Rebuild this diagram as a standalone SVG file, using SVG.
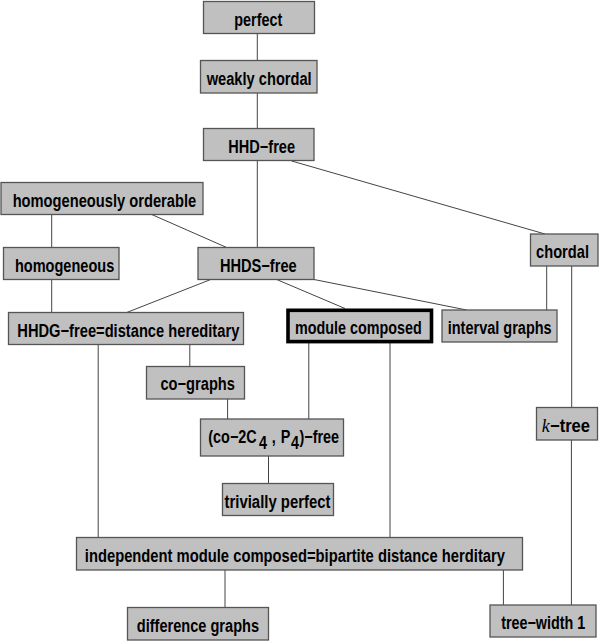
<svg xmlns="http://www.w3.org/2000/svg" width="599" height="641" viewBox="0 0 599 641">
<style>
  .bx { fill: #c0c0c0; stroke: #555555; stroke-width: 1.3; }
  .thick { fill: #c0c0c0; stroke: #000000; stroke-width: 3.6; }
  .t { font-family: "Liberation Sans", Arial, sans-serif; font-weight: bold; font-size: 18px; fill: #000000; }
  .c { text-anchor: middle; }
  .k { font-family: "Liberation Serif", "Times New Roman", serif; font-style: italic; font-weight: normal; }
  .e { stroke: #444444; stroke-width: 1; fill: none; }
</style>
<rect width="599" height="641" fill="#ffffff"/>
<g id="connectors">
  <line class="e" x1="257.3" y1="33.5" x2="257.3" y2="60.5"/>
  <line class="e" x1="257.3" y1="93" x2="257.3" y2="128.5"/>
  <line class="e" x1="257.3" y1="160.5" x2="257.3" y2="247.5"/>
  <line class="e" x1="291.7" y1="161" x2="545" y2="234"/>
  <line class="e" x1="51.7" y1="214.5" x2="51.7" y2="247.5"/>
  <line class="e" x1="51.7" y1="279.5" x2="51.7" y2="312.5"/>
  <line class="e" x1="151.7" y1="214.5" x2="226.7" y2="247.5"/>
  <line class="e" x1="210.7" y1="279.5" x2="126.7" y2="312.5"/>
  <line class="e" x1="276.7" y1="279.5" x2="345" y2="308.5"/>
  <line class="e" x1="314" y1="279.5" x2="466.7" y2="310"/>
  <line class="e" x1="546.7" y1="266" x2="546.7" y2="310"/>
  <line class="e" x1="571.7" y1="266" x2="571.7" y2="407.5"/>
  <line class="e" x1="189.8" y1="344.5" x2="189.8" y2="366.5"/>
  <line class="e" x1="98.2" y1="344.5" x2="98.2" y2="537.5"/>
  <line class="e" x1="227.6" y1="399" x2="227.6" y2="419"/>
  <line class="e" x1="308.8" y1="343" x2="308.8" y2="419"/>
  <line class="e" x1="390" y1="343" x2="390" y2="537.5"/>
  <line class="e" x1="268.5" y1="456" x2="268.5" y2="483.5"/>
  <line class="e" x1="225" y1="570" x2="225" y2="607.5"/>
  <line class="e" x1="503.4" y1="570" x2="503.4" y2="605"/>
  <line class="e" x1="571.4" y1="440" x2="571.4" y2="605"/>
</g>
<g id="perfect">
  <rect class="bx" x="203.5" y="1.5" width="111" height="32"/>
  <text class="t c" x="258.3" y="26" textLength="48" lengthAdjust="spacingAndGlyphs">perfect</text>
</g>
<g id="weakly-chordal">
  <rect class="bx" x="200.5" y="60.5" width="116.5" height="32.5"/>
  <text class="t c" x="259.2" y="85.3" textLength="105" lengthAdjust="spacingAndGlyphs">weakly chordal</text>
</g>
<g id="hhd-free">
  <rect class="bx" x="203.5" y="128.5" width="110.5" height="32"/>
  <text class="t c" x="261.7" y="152.8" textLength="66.7" lengthAdjust="spacingAndGlyphs">HHD−free</text>
</g>
<g id="homogeneously-orderable">
  <rect class="bx" x="1" y="182.5" width="202" height="32"/>
  <text class="t c" x="104.4" y="207" textLength="183.5" lengthAdjust="spacingAndGlyphs">homogeneously orderable</text>
</g>
<g id="homogeneous">
  <rect class="bx" x="3.5" y="247.5" width="115.5" height="32"/>
  <text class="t c" x="64.6" y="271.5" textLength="99.3" lengthAdjust="spacingAndGlyphs">homogeneous</text>
</g>
<g id="hhds-free">
  <rect class="bx" x="198" y="247.5" width="116" height="32"/>
  <text class="t c" x="258.3" y="271.8" textLength="76.7" lengthAdjust="spacingAndGlyphs">HHDS−free</text>
</g>
<g id="chordal">
  <rect class="bx" x="530.5" y="234" width="67.5" height="32"/>
  <text class="t c" transform="translate(562.5,258.3) scale(0.815,1)">chordal</text>
</g>
<g id="hhdg-free">
  <rect class="bx" x="8.5" y="312.5" width="235" height="32"/>
  <text class="t c" x="128.3" y="336.8" textLength="222" lengthAdjust="spacingAndGlyphs">HHDG−free=distance hereditary</text>
</g>
<g id="module-composed">
  <rect class="thick" x="288" y="310.3" width="143.5" height="31.3"/>
  <text class="t c" x="358.4" y="334" textLength="126.7" lengthAdjust="spacingAndGlyphs">module composed</text>
</g>
<g id="interval-graphs">
  <rect class="bx" x="442" y="310" width="115" height="32"/>
  <text class="t c" x="499.7" y="334" textLength="104" lengthAdjust="spacingAndGlyphs">interval graphs</text>
</g>
<g id="co-graphs">
  <rect class="bx" x="146.5" y="366.5" width="98" height="32.5"/>
  <text class="t c" x="197.7" y="389.5" textLength="74.5" lengthAdjust="spacingAndGlyphs">co−graphs</text>
</g>
<g id="co-2c4-p4-free">
  <rect class="bx" x="200.5" y="419" width="143" height="37"/>
  <text class="t" transform="translate(208.3,443) scale(0.8,1)">(co−2C<tspan dx="3" dy="6">4</tspan><tspan dx="6" dy="-6">,</tspan><tspan dx="6">P</tspan><tspan dx="1" dy="6">4</tspan><tspan dx="0.5" dy="-6">)−free</tspan></text>
</g>
<g id="trivially-perfect">
  <rect class="bx" x="222.5" y="483.5" width="111" height="32"/>
  <text class="t c" x="277.5" y="507.5" textLength="105.8" lengthAdjust="spacingAndGlyphs">trivially perfect</text>
</g>
<g id="k-tree">
  <rect class="bx" x="536.5" y="407.5" width="61" height="32.5"/>
  <text class="t" y="431.7"><tspan class="k" x="541.7">k</tspan><tspan x="550" textLength="40" lengthAdjust="spacingAndGlyphs">−tree</tspan></text>
</g>
<g id="independent-module-composed">
  <rect class="bx" x="76.5" y="537.5" width="446" height="32.5"/>
  <text class="t c" x="294.9" y="561.7" textLength="420.2" lengthAdjust="spacingAndGlyphs">independent module composed=bipartite distance herditary</text>
</g>
<g id="difference-graphs">
  <rect class="bx" x="127.5" y="607.5" width="141" height="32.5"/>
  <text class="t c" x="197.9" y="631.7" textLength="122.3" lengthAdjust="spacingAndGlyphs">difference graphs</text>
</g>
<g id="tree-width-1">
  <rect class="bx" x="490" y="605" width="106" height="32"/>
  <text class="t c" transform="translate(543.2,628.8) scale(0.797,1)">tree−width 1</text>
</g>
</svg>
